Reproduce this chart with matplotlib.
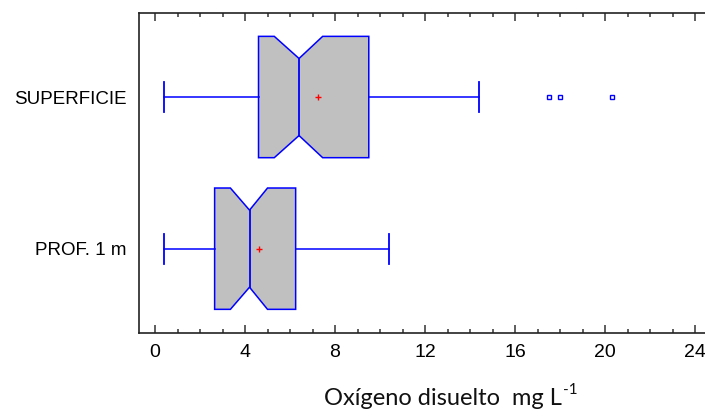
import matplotlib
matplotlib.use("Agg")
import matplotlib.pyplot as plt
from matplotlib.ticker import MultipleLocator

# ---- data ----
categories = ["PROF. 1 m", "SUPERFICIE"]
whislo = [0.4, 0.4]
q1 = [2.65, 4.6]
med = [4.2, 6.4]
q3 = [6.25, 9.5]
whishi = [10.4, 14.4]
means = [4.6, 7.25]
notch_lo = [3.35, 5.3]
notch_hi = [5.0, 7.45]
fliers = [[], [17.5, 18.0, 20.3]]
xticks = [0, 4, 8, 12, 16, 20, 24]

BLUE = "#0000FF"
GREY = "#C0C0C0"

fig = plt.figure(figsize=(7.05, 4.15), dpi=100)
ax = fig.add_axes([139 / 705, 1 - 333 / 415, 1 - 139 / 705, (333 - 12.7) / 415])

half = 0.4      # half box height
waist = 0.254   # half height at notch waist
cap = 0.1       # half cap length

for i, cat in enumerate(categories):
    p = i + 1
    xs = [q1[i], notch_lo[i], med[i], notch_hi[i], q3[i], q3[i],
          notch_hi[i], med[i], notch_lo[i], q1[i]]
    ys = [p - half, p - half, p - waist, p - half, p - half, p + half,
          p + half, p + waist, p + half, p + half]
    ax.fill(xs, ys, facecolor=GREY, edgecolor=BLUE, linewidth=1.1, zorder=2)
    ax.plot([med[i], med[i]], [p - waist, p + waist], color=BLUE, lw=1.3, zorder=3)
    ax.plot([whislo[i], q1[i]], [p, p], color=BLUE, lw=1.1, zorder=2)
    ax.plot([q3[i], whishi[i]], [p, p], color=BLUE, lw=1.1, zorder=2)
    ax.plot([whislo[i], whislo[i]], [p - cap, p + cap], color=BLUE, lw=1.3, zorder=2)
    ax.plot([whishi[i], whishi[i]], [p - cap, p + cap], color=BLUE, lw=1.3, zorder=2)
    ax.plot([means[i]], [p], marker="+", color="red", markersize=5, mew=1.0, zorder=4)
    if fliers[i]:
        ax.plot(fliers[i], [p] * len(fliers[i]), linestyle="none", marker="s",
                markersize=3.0, markerfacecolor="white", markeredgecolor=BLUE,
                mew=1.0, zorder=4)

ax.set_xlim(-0.711, 24.44)
ax.set_ylim(0.444, 2.556)
ax.set_xticks(xticks)
ax.set_xticklabels([str(t) for t in xticks], fontsize=14, family="Liberation Sans")
ax.xaxis.set_minor_locator(MultipleLocator(1))
ax.tick_params(axis="x", which="both", direction="in", top=True, bottom=True,
               width=1.1, color="#333333", pad=8)
ax.tick_params(axis="x", which="major", length=6)
ax.tick_params(axis="x", which="minor", length=3)
ax.set_yticks([1, 2])
ax.set_yticklabels(categories, fontsize=13.5, family="Liberation Sans")
ax.tick_params(axis="y", length=0, pad=9)

for s in ["left", "bottom", "top"]:
    ax.spines[s].set_linewidth(1.2)
    ax.spines[s].set_color("#222222")
ax.spines["right"].set_visible(False)

label_main = "Oxígeno disuelto  mg L"
label_sup = "-1"
t = fig.text(0, 1 - 405 / 415, label_main, ha="left", va="baseline",
             fontsize=17, family="Lato", color="#111111")
s = fig.text(0, 1 - 394 / 415, label_sup, ha="left", va="baseline",
             fontsize=11, family="Lato", color="#111111")
fig.canvas.draw()
w_main = t.get_window_extent().width
w_sup = s.get_window_extent().width
start = 451 - (w_main + 1 + w_sup) / 2
t.set_x(start / 705)
s.set_x((start + w_main + 1) / 705)

fig.savefig("out.png", dpi=100)
